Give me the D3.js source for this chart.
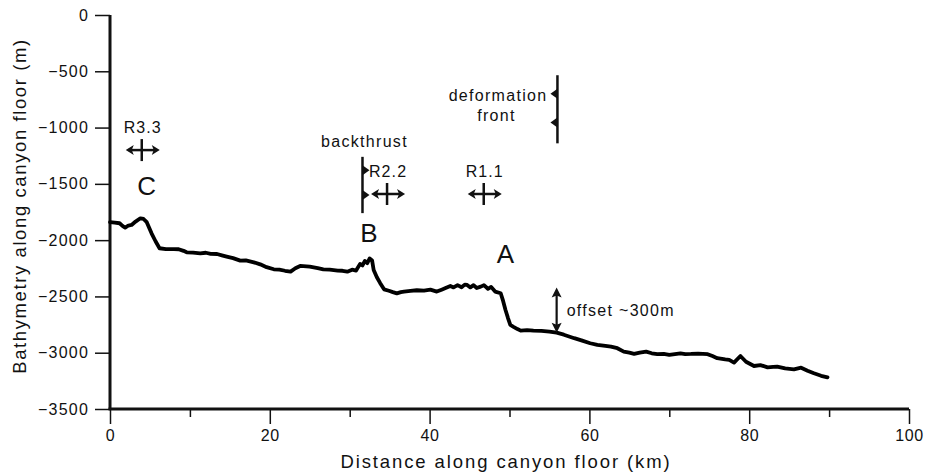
<!DOCTYPE html>
<html>
<head>
<meta charset="utf-8">
<style>
  body { margin: 0; background: #fff; }
  svg text { font-family: "Liberation Sans", Arial, sans-serif; fill: #111; }
</style>
</head>
<body>
<svg id="chart" width="935" height="473"></svg>
<script src="https://d3js.org/d3.v7.min.js"></script>
<script>
  // profile along canyon floor
  const profileKm = [0, 0.6, 1.2, 1.6, 1.9, 2.3, 2.7, 3.2, 3.8, 4.2, 4.6, 5.2, 5.7, 6.2, 7.0, 8.0, 8.6, 9.2, 9.6, 10.4, 11.3, 12.0, 12.6, 13.4, 14.0, 14.6, 15.4, 16.3, 17.0, 18.0, 18.8, 19.6, 20.5, 21.2, 21.9, 22.6, 23.2, 23.8, 25.0, 26.0, 26.7, 27.5, 28.5, 29.1, 29.7, 30.3, 30.8, 31.3, 31.6, 31.9, 32.2, 32.5, 32.8, 33.0, 33.4, 33.8, 34.3, 34.9, 35.4, 35.9, 36.4, 36.8, 37.6, 38.4, 39.3, 40.1, 40.9, 41.5, 42.0, 42.6, 43.0, 43.5, 44.0, 44.4, 44.7, 45.1, 45.5, 45.9, 46.4, 46.8, 47.3, 47.7, 48.2, 48.9, 49.2, 49.5, 49.8, 50.1, 50.5, 51.0, 51.4, 52.2, 53.0, 54.0, 55.0, 55.9, 56.8, 58.1, 59.0, 60.1, 61.0, 62.0, 62.7, 63.5, 64.3, 65.0, 65.6, 66.3, 67.1, 67.8, 68.5, 69.3, 70.0, 70.7, 71.4, 72.0, 72.7, 73.6, 74.8, 75.4, 76.0, 77.0, 77.5, 78.1, 78.9, 79.6, 80.6, 81.4, 82.3, 83.0, 83.5, 84.5, 85.6, 86.5, 87.3, 88.1, 89.0, 89.8];
  const profileDepth = [-1840, -1845, -1850, -1875, -1889, -1870, -1865, -1835, -1806, -1812, -1840, -1939, -2010, -2072, -2080, -2080, -2081, -2095, -2108, -2110, -2117, -2112, -2122, -2123, -2135, -2146, -2160, -2182, -2180, -2197, -2215, -2240, -2259, -2262, -2272, -2280, -2250, -2229, -2235, -2248, -2259, -2262, -2270, -2272, -2280, -2262, -2270, -2211, -2225, -2185, -2205, -2162, -2180, -2265, -2330, -2380, -2437, -2450, -2462, -2473, -2462, -2457, -2450, -2445, -2449, -2440, -2457, -2440, -2425, -2407, -2420, -2400, -2418, -2395, -2398, -2420, -2400, -2425, -2413, -2400, -2432, -2415, -2457, -2472, -2540, -2620, -2690, -2753, -2770, -2790, -2804, -2800, -2804, -2806, -2812, -2822, -2840, -2871, -2890, -2916, -2930, -2940, -2946, -2960, -2990, -3000, -3011, -3000, -2990, -3005, -3013, -3010, -3020, -3012, -3005, -3012, -3011, -3008, -3013, -3030, -3049, -3060, -3064, -3088, -3029, -3080, -3118, -3110, -3130, -3125, -3124, -3140, -3148, -3133, -3160, -3183, -3205, -3219];

  const xTicksMajor = [0, 20, 40, 60, 80, 100];
  const xTicksMinor = [10, 30, 50, 70, 90];
  const yTicks = [0, -500, -1000, -1500, -2000, -2500, -3000, -3500];

  // annotations: [km, depth]
  const letterLabels = ["C", "B", "A"];
  const letterPos = [[4.6, -1540], [32.4, -1955], [49.5, -2145]];
  const rollLabels = ["R3.3", "R2.2", "R1.1"];
  const rollPos = [[4.1, -1200], [34.8, -1590], [46.9, -1590]];
  const backthrust = { km: 31.6, top: -1260, bottom: -1760, teeth: [-1380, -1600] };
  const deformFront = { km: 56.0, top: -535, bottom: -1140, teeth: [-700, -955] };
  const offsetArrow = { km: 55.9, top: -2420, bottom: -2822, label: "offset ~300m" };

  const svg = d3.select("#chart");
  const x = d3.scaleLinear().domain([0, 100]).range([110, 909]);
  const y = d3.scaleLinear().domain([0, -3500]).range([15, 409]);

  // axes
  const yAxis = svg.append("g").attr("transform", "translate(110,0)")
    .call(d3.axisLeft(y).tickValues(yTicks).tickSize(15).tickPadding(6)
      .tickFormat(d => d === 0 ? "0" : "\u2212" + Math.abs(d)));
  yAxis.select(".domain").remove();
  yAxis.selectAll(".tick line").attr("stroke", "#111").attr("stroke-width", 1.5);
  yAxis.selectAll("text").attr("font-size", 16).attr("letter-spacing", 1.2).attr("fill", "#111");

  const xMinor = svg.append("g").attr("transform", "translate(0,409)")
    .call(d3.axisBottom(x).tickValues(xTicksMinor).tickSize(8).tickFormat(""));
  xMinor.select(".domain").remove();
  xMinor.selectAll(".tick line").attr("stroke", "#111").attr("stroke-width", 1.5);

  const xAxis = svg.append("g").attr("transform", "translate(0,409)")
    .call(d3.axisBottom(x).tickValues(xTicksMajor).tickSize(15).tickPadding(6));
  xAxis.select(".domain").remove();
  xAxis.selectAll(".tick line").attr("stroke", "#111").attr("stroke-width", 1.5);
  xAxis.selectAll("text").attr("font-size", 16).attr("letter-spacing", 0.6).attr("fill", "#111");

  svg.append("line").attr("x1", x(0)).attr("x2", x(0)).attr("y1", y(0)).attr("y2", y(-3500))
    .attr("stroke", "#111").attr("stroke-width", 3);
  svg.append("line").attr("x1", x(0) - 1.5).attr("x2", x(100)).attr("y1", y(-3500)).attr("y2", y(-3500))
    .attr("stroke", "#111").attr("stroke-width", 3);

  svg.append("text").attr("x", 506).attr("y", 468).attr("text-anchor", "middle")
    .attr("font-size", 18.5).attr("letter-spacing", 1.9).text("Distance along canyon floor (km)");
  svg.append("text").attr("transform", "translate(26,206) rotate(-90)").attr("text-anchor", "middle")
    .attr("font-size", 18.5).attr("letter-spacing", 1.6).text("Bathymetry along canyon floor (m)");

  // profile
  const profile = profileKm.map((k, i) => [k, profileDepth[i]]);
  svg.append("path").datum(profile)
    .attr("fill", "none").attr("stroke", "#000").attr("stroke-width", 3.8)
    .attr("stroke-linejoin", "round").attr("stroke-linecap", "round")
    .attr("d", d3.line().x(d => x(d[0])).y(d => y(d[1])));

  // letters
  letterLabels.forEach((t, i) => {
    svg.append("text").attr("x", x(letterPos[i][0])).attr("y", y(letterPos[i][1]))
      .attr("text-anchor", "middle").attr("dominant-baseline", "middle")
      .attr("font-size", 26).text(t);
  });

  // double arrows with cross
  function headH(cx, cy, dir) {
    return `M${cx},${cy} l${-dir * 8},-5 l${dir * 2},5 l${-dir * 2},5 Z`;
  }
  rollLabels.forEach((t, i) => {
    const cx = x(rollPos[i][0]), cy = y(rollPos[i][1]);
    const g = svg.append("g");
    g.append("line").attr("x1", cx - 14).attr("x2", cx + 14).attr("y1", cy).attr("y2", cy)
      .attr("stroke", "#111").attr("stroke-width", 2.5);
    g.append("path").attr("d", headH(cx - 17, cy, -1)).attr("fill", "#111");
    g.append("path").attr("d", headH(cx + 17, cy, 1)).attr("fill", "#111");
    g.append("line").attr("x1", cx - 1).attr("x2", cx - 1).attr("y1", cy - 11).attr("y2", cy + 11)
      .attr("stroke", "#111").attr("stroke-width", 2.5);
    svg.append("text").attr("x", cx).attr("y", cy - 17).attr("text-anchor", "middle")
      .attr("font-size", 16).attr("letter-spacing", 1.1).text(t);
  });

  // thrust lines
  function thrust(f, dir) {
    const fx = x(f.km);
    svg.append("line").attr("x1", fx).attr("x2", fx).attr("y1", y(f.top)).attr("y2", y(f.bottom))
      .attr("stroke", "#111").attr("stroke-width", 2.5);
    f.teeth.forEach(d => {
      const ty = y(d);
      svg.append("path").attr("d", `M${fx},${ty - 5} L${fx + dir * 7},${ty} L${fx},${ty + 5} Z`).attr("fill", "#111");
    });
  }
  thrust(backthrust, 1);
  thrust(deformFront, -1);
  svg.append("text").attr("x", x(backthrust.km) + 2).attr("y", y(backthrust.top) - 10)
    .attr("text-anchor", "middle").attr("font-size", 16).attr("letter-spacing", 1.3).text("backthrust");
  svg.append("text").attr("x", x(deformFront.km) - 10).attr("y", y(-760))
    .attr("text-anchor", "end").attr("font-size", 16).attr("letter-spacing", 1.3).text("deformation");
  svg.append("text").attr("x", x(deformFront.km) - 61).attr("y", y(-945))
    .attr("text-anchor", "middle").attr("font-size", 16).attr("letter-spacing", 1.3).text("front");

  // offset arrow
  const ox = x(offsetArrow.km), oy1 = y(offsetArrow.top), oy2 = y(offsetArrow.bottom);
  svg.append("line").attr("x1", ox).attr("x2", ox).attr("y1", oy1 + 6).attr("y2", oy2 - 6)
    .attr("stroke", "#111").attr("stroke-width", 2.2);
  svg.append("path").attr("d", `M${ox},${oy1} l-5,10 l5,-2 l5,2 Z`).attr("fill", "#111");
  svg.append("path").attr("d", `M${ox},${oy2} l-5,-10 l5,2 l5,-2 Z`).attr("fill", "#111");
  svg.append("text").attr("x", ox + 10).attr("y", (oy1 + oy2) / 2 + 6)
    .attr("font-size", 16).attr("letter-spacing", 1.3).text(offsetArrow.label);
</script>
</body>
</html>
